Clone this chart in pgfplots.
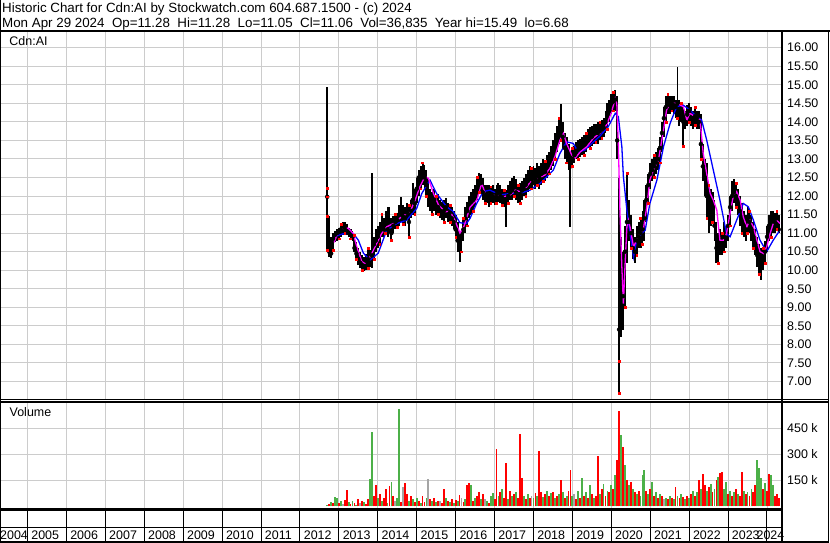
\documentclass[border=0pt]{standalone}
\usepackage{fontspec}
\setmainfont{Liberation Sans}
\usepackage{pgfplots}
\pgfplotsset{compat=1.18}
\usepackage{pgfplotstable}
\definecolor{gridc}{RGB}{204,204,204}
\definecolor{vgreen}{RGB}{76,176,72}
\definecolor{vgray}{RGB}{165,165,165}
\definecolor{magline}{RGB}{255,0,255}
\definecolor{blueline}{RGB}{0,0,255}

\pgfplotstableread{
x lo hi c
2012.70 10.55 14.95 11.98
2012.75 10.35 11.46 10.50
2012.80 10.33 10.90 10.45
2012.85 10.55 11.00 10.85
2012.90 10.75 11.05 10.95
2012.95 10.80 11.10 11.00
2013.00 10.85 11.15 11.05
2013.05 10.90 11.25 11.10
2013.10 10.95 11.30 11.20
2013.15 11.00 11.30 11.15
2013.20 10.95 11.25 11.05
2013.25 10.90 11.15 11.00
2013.30 10.85 11.10 10.95
2013.35 10.80 11.05 10.90
2013.40 10.50 10.95 10.60
2013.45 10.30 10.75 10.45
2013.50 10.15 10.60 10.30
2013.55 10.05 10.50 10.20
2013.60 10.00 10.40 10.10
2013.65 9.98 10.35 10.05
2013.70 10.00 10.45 10.25
2013.75 10.05 10.60 10.30
2013.80 10.10 10.55 10.20
2013.85 10.05 12.61 10.40
2013.90 10.30 10.90 10.70
2013.95 10.50 11.10 10.80
2014.00 10.60 11.20 10.90
2014.05 10.70 11.30 11.10
2014.10 10.90 11.50 11.20
2014.15 10.90 11.40 11.10
2014.20 11.00 11.60 11.30
2014.25 10.90 11.71 11.10
2014.30 11.00 11.70 11.35
2014.35 10.81 11.40 11.00
2014.40 11.00 11.45 11.20
2014.45 11.10 11.50 11.30
2014.50 11.15 11.55 11.35
2014.55 11.20 11.75 11.50
2014.60 11.30 11.98 11.60
2014.65 11.25 11.75 11.45
2014.70 11.20 11.70 11.40
2014.75 11.35 11.80 11.55
2014.80 10.90 11.75 11.30
2014.85 11.40 11.90 11.60
2014.90 11.50 12.34 11.90
2014.95 11.50 12.20 11.80
2015.00 11.80 12.50 12.20
2015.05 12.00 12.70 12.50
2015.10 12.20 12.80 12.60
2015.15 12.30 12.90 12.65
2015.20 12.20 12.85 12.50
2015.25 12.00 12.70 12.30
2015.30 11.70 12.50 12.00
2015.35 11.60 12.20 11.90
2015.40 11.50 12.10 11.80
2015.45 11.60 12.20 11.90
2015.50 11.50 12.00 11.70
2015.55 11.50 12.05 11.70
2015.60 11.40 11.90 11.60
2015.65 11.35 11.85 11.55
2015.70 11.30 11.90 11.60
2015.75 11.40 11.95 11.70
2015.80 11.30 11.80 11.50
2015.85 11.30 11.75 11.55
2015.90 11.20 11.70 11.40
2015.95 11.10 11.60 11.30
2016.00 10.90 11.50 11.10
2016.05 10.50 11.30 10.80
2016.10 10.23 11.00 10.60
2016.15 10.50 11.10 10.90
2016.20 10.80 11.40 11.10
2016.25 11.00 11.70 11.40
2016.30 11.20 11.85 11.60
2016.35 11.40 12.00 11.80
2016.40 11.50 12.10 11.85
2016.45 11.60 12.20 11.90
2016.50 11.70 12.30 12.00
2016.55 11.90 12.50 12.20
2016.60 12.10 12.61 12.40
2016.65 12.10 12.60 12.35
2016.70 11.90 12.50 12.10
2016.75 11.80 12.30 12.00
2016.80 11.80 12.30 12.05
2016.85 11.70 12.30 12.00
2016.90 11.80 12.25 12.05
2016.95 11.80 12.30 12.00
2017.00 11.75 12.20 11.95
2017.05 11.80 12.30 12.05
2017.10 11.85 12.35 12.10
2017.15 11.80 12.30 12.00
2017.20 11.75 12.20 11.95
2017.25 11.70 12.15 11.90
2017.30 11.17 12.15 11.90
2017.35 11.80 12.30 12.00
2017.40 11.90 12.40 12.10
2017.45 11.90 12.50 12.15
2017.50 12.00 12.55 12.25
2017.55 11.90 12.45 12.10
2017.60 11.80 12.30 12.00
2017.65 11.80 12.35 12.05
2017.70 11.90 12.40 12.15
2017.75 12.00 12.50 12.20
2017.80 12.00 12.60 12.30
2017.85 12.10 12.70 12.40
2017.90 12.20 12.80 12.50
2017.95 12.20 12.75 12.45
2018.00 12.30 12.80 12.50
2018.05 12.20 12.75 12.45
2018.10 12.30 12.90 12.60
2018.15 12.20 12.80 12.50
2018.20 12.30 12.90 12.60
2018.25 12.40 13.00 12.70
2018.30 12.40 12.95 12.65
2018.35 12.50 13.10 12.80
2018.40 12.60 13.20 12.90
2018.45 12.70 13.35 13.00
2018.50 12.80 13.50 13.20
2018.55 13.00 13.70 13.40
2018.60 13.20 13.90 13.60
2018.65 13.40 14.10 13.80
2018.70 13.50 14.48 13.90
2018.75 13.30 14.00 13.60
2018.80 13.00 13.70 13.30
2018.85 12.90 13.60 13.20
2018.90 12.70 13.40 13.00
2018.95 11.17 13.20 12.80
2019.00 12.80 13.30 13.00
2019.05 12.90 13.35 13.10
2019.10 13.00 13.45 13.20
2019.15 13.00 13.50 13.25
2019.20 13.05 13.55 13.30
2019.25 13.10 13.60 13.35
2019.30 13.10 13.65 13.40
2019.35 13.20 13.70 13.45
2019.40 13.30 13.80 13.50
2019.45 13.30 13.85 13.60
2019.50 13.35 13.90 13.60
2019.55 13.40 13.95 13.70
2019.60 13.45 13.95 13.70
2019.65 13.40 14.00 13.70
2019.70 13.50 14.00 13.75
2019.75 13.55 14.05 13.80
2019.80 13.60 14.10 13.85
2019.85 13.70 14.30 14.00
2019.90 13.80 14.50 14.20
2019.95 14.00 14.60 14.30
2020.00 14.20 14.75 14.50
2020.05 14.30 14.80 14.55
2020.10 14.30 14.86 14.60
2020.15 13.00 14.70 13.50
2020.20 6.68 12.50 8.40
2020.25 8.20 10.90 9.00
2020.30 8.40 10.50 9.30
2020.35 9.00 11.20 10.50
2020.40 10.20 12.61 11.30
2020.45 10.80 11.90 11.30
2020.50 10.60 11.50 11.00
2020.55 10.30 11.10 10.60
2020.60 10.20 10.90 10.50
2020.65 10.40 11.20 10.80
2020.70 10.60 11.30 10.90
2020.75 10.60 11.40 11.00
2020.80 10.70 11.60 11.10
2020.85 10.80 11.90 11.40
2020.90 11.30 12.30 11.90
2020.95 11.80 12.60 12.30
2021.00 12.20 12.90 12.60
2021.05 12.40 13.00 12.70
2021.10 12.50 13.10 12.80
2021.15 12.60 13.20 12.90
2021.20 12.70 13.30 13.00
2021.25 12.90 13.60 13.30
2021.30 13.20 14.00 13.70
2021.35 13.60 14.40 14.10
2021.40 14.00 14.70 14.40
2021.45 14.20 14.75 14.50
2021.50 14.20 14.70 14.45
2021.55 14.30 14.70 14.50
2021.60 14.20 14.70 14.45
2021.65 14.10 14.60 14.40
2021.70 14.10 15.49 14.50
2021.75 13.90 14.60 14.30
2021.80 14.00 14.50 14.30
2021.85 13.35 14.40 14.00
2021.90 13.80 14.30 14.00
2021.95 13.90 14.45 14.20
2022.00 14.00 14.50 14.30
2022.05 13.90 14.40 14.10
2022.10 13.80 14.30 14.00
2022.15 13.90 14.40 14.15
2022.20 13.80 14.30 14.10
2022.25 13.80 14.30 14.00
2022.30 13.00 14.20 13.40
2022.35 12.40 13.40 12.80
2022.40 12.00 13.00 12.50
2022.45 11.40 12.90 12.00
2022.50 11.00 12.30 11.50
2022.55 11.20 12.20 11.80
2022.60 11.30 12.10 11.70
2022.65 10.80 11.90 11.20
2022.70 10.20 11.30 10.60
2022.75 10.20 11.00 10.50
2022.80 10.40 11.10 10.70
2022.85 10.40 11.00 10.70
2022.90 10.50 11.30 10.90
2022.95 10.60 11.20 10.85
2023.00 10.80 11.50 11.20
2023.05 11.20 12.00 11.70
2023.10 11.60 12.40 12.00
2023.15 11.80 12.45 12.10
2023.20 11.70 12.35 12.00
2023.25 11.50 12.20 11.80
2023.30 11.20 12.00 11.60
2023.35 11.00 11.80 11.30
2023.40 10.90 11.60 11.20
2023.45 10.80 11.50 11.10
2023.50 11.00 11.70 11.40
2023.55 11.00 11.60 11.30
2023.60 10.80 11.50 11.10
2023.65 10.60 11.30 10.90
2023.70 10.40 11.10 10.70
2023.75 10.10 10.90 10.40
2023.80 9.90 10.70 10.30
2023.85 9.74 10.60 10.20
2023.90 10.00 10.60 10.30
2023.95 10.20 10.80 10.50
2024.00 10.50 11.20 10.90
2024.05 10.80 11.50 11.20
2024.10 10.90 11.60 11.30
2024.15 11.00 11.60 11.35
2024.20 11.00 11.55 11.30
2024.25 11.10 11.60 11.40
2024.30 11.00 11.50 11.10
}\price

\begin{document}
\begin{tikzpicture}[x=1bp,y=1bp]
\useasboundingbox (0bp,0bp) rectangle (830bp,543bp);

% ---------------- price panel ----------------
\begin{axis}[
  at={(0bp,143bp)}, anchor=south west,
  scale only axis, width=782bp, height=368.5bp,
  xmin=2004.293, xmax=2024.385, ymin=6.501, ymax=16.437,
  axis line style={draw=none},
  major tick length=0pt,
  xtick={2005,2006,...,2024}, xticklabels={},
  ytick={7,7.5,8,8.5,9,9.5,10,10.5,11,11.5,12,12.5,13,13.5,14,14.5,15,15.5,16},
  yticklabel pos=right,
  yticklabel={\pgfmathprintnumber[fixed,fixed zerofill,precision=2,assume math mode=true]{\tick}},
  yticklabel style={anchor=west, inner sep=0pt, xshift=5bp, font=\fontsize{12.5}{14}\selectfont},
  grid=major, major grid style={draw=gridc, line width=1bp},
]
\addplot[only marks, mark=none,
  error bars/.cd, y dir=both, y explicit, error mark=none,
  error bar style={draw=black, line width=1.95bp}]
  table[x=x, y=c, y error plus expr=\thisrow{hi}-\thisrow{c}, y error minus expr=\thisrow{c}-\thisrow{lo}] {\price};
\addplot[blueline, line width=1.3bp] coordinates {
(2012.88,10.90) (2013.10,10.98) (2013.37,10.99) (2013.50,10.81) (2013.63,10.46) (2013.80,10.27) (2014.01,10.46) (2014.23,11.08) (2014.49,11.26) (2014.74,11.35) (2015.00,11.67) (2015.13,12.07) (2015.34,12.43) (2015.51,12.07) (2015.77,11.71) (2015.94,11.58) (2016.11,11.28) (2016.28,11.26) (2016.37,11.40) (2016.54,11.80) (2016.71,12.12) (2016.88,12.16) (2017.14,12.03) (2017.40,12.07) (2017.65,12.07) (2017.91,12.16) (2018.17,12.34) (2018.30,12.48) (2018.51,12.70) (2018.68,13.15) (2018.85,13.46) (2019.02,13.42) (2019.15,13.19) (2019.32,13.24) (2019.54,13.46) (2019.71,13.62) (2019.92,13.87) (2020.10,14.23) (2020.18,14.14) (2020.27,13.33) (2020.31,12.52) (2020.40,11.62) (2020.48,10.99) (2020.57,10.36) (2020.65,10.81) (2020.78,10.99) (2020.87,11.08) (2020.99,11.80) (2021.17,12.43) (2021.34,13.33) (2021.51,13.96) (2021.68,14.41) (2021.85,14.45) (2022.02,14.32) (2022.19,14.14) (2022.32,14.05) (2022.45,13.51) (2022.62,12.70) (2022.79,11.89) (2022.96,10.99) (2023.05,10.90) (2023.22,11.35) (2023.39,11.80) (2023.52,11.71) (2023.65,11.35) (2023.82,10.81) (2023.99,10.50) (2024.16,10.81) (2024.33,11.08)
};
\addplot[magline, line width=1.3bp] coordinates {
(2012.88,10.75) (2012.95,10.95) (2013.03,11.08) (2013.15,11.15) (2013.24,11.13) (2013.37,10.99) (2013.46,10.63) (2013.59,10.23) (2013.67,10.19) (2013.80,10.36) (2013.93,10.63) (2014.10,10.99) (2014.23,11.17) (2014.40,11.26) (2014.61,11.44) (2014.83,11.58) (2014.96,11.89) (2015.08,12.25) (2015.21,12.52) (2015.30,12.48) (2015.43,12.07) (2015.56,11.76) (2015.73,11.58) (2015.86,11.58) (2015.98,11.35) (2016.11,11.00) (2016.22,11.20) (2016.37,11.70) (2016.54,11.89) (2016.67,12.34) (2016.76,12.07) (2016.88,12.03) (2017.06,12.03) (2017.23,11.98) (2017.40,12.03) (2017.53,12.16) (2017.65,12.12) (2017.83,12.25) (2017.95,12.43) (2018.12,12.48) (2018.30,12.57) (2018.42,12.75) (2018.55,13.06) (2018.68,13.51) (2018.77,13.69) (2018.85,13.42) (2018.98,13.11) (2019.07,13.02) (2019.20,13.19) (2019.37,13.33) (2019.54,13.56) (2019.71,13.70) (2019.88,13.92) (2020.01,14.28) (2020.10,14.63) (2020.14,14.50) (2020.18,13.42) (2020.22,11.62) (2020.27,10.09) (2020.31,9.10) (2020.35,10.09) (2020.40,11.17) (2020.44,11.35) (2020.48,11.17) (2020.57,10.63) (2020.65,10.81) (2020.74,10.99) (2020.82,11.08) (2020.91,11.71) (2020.99,12.43) (2021.08,12.70) (2021.21,12.97) (2021.34,13.78) (2021.42,14.32) (2021.51,14.50) (2021.68,14.50) (2021.85,14.41) (2021.94,14.05) (2022.02,14.23) (2022.15,14.14) (2022.28,14.05) (2022.36,13.15) (2022.45,12.61) (2022.54,12.07) (2022.62,11.89) (2022.71,11.62) (2022.79,10.81) (2022.88,10.81) (2022.96,10.99) (2023.05,11.53) (2023.13,11.98) (2023.22,12.12) (2023.31,11.89) (2023.39,11.44) (2023.48,11.17) (2023.56,11.35) (2023.65,11.17) (2023.74,10.81) (2023.82,10.50) (2023.91,10.45) (2023.99,10.63) (2024.08,10.99) (2024.16,11.26) (2024.25,11.35) (2024.33,11.26)
};
\addplot[only marks, mark=square*, mark size=0.9bp, red, each nth point=3] table[x=x, y=lo] {\price};
\addplot[only marks, mark=square*, mark size=0.9bp, red, each nth point=7, skip coords between index={0}{1}] table[x=x, y=hi] {\price};
\addplot[only marks, mark=square*, mark size=0.9bp, red] coordinates {(2012.70,12.22) (2012.70,11.98) (2012.70,11.46) (2020.20,7.55)};
\end{axis}

% ---------------- volume panel ----------------
\begin{axis}[
  at={(0bp,34bp)}, anchor=south west,
  scale only axis, width=782bp, height=107bp,
  xmin=2004.293, xmax=2024.385, ymin=-15.6, ymax=601.7,
  axis line style={draw=none},
  major tick length=0pt,
  xtick={2005,2006,...,2024}, xticklabels={},
  ytick={150,300,450}, yticklabels={150 k,300 k,450 k},
  yticklabel pos=right,
  yticklabel style={anchor=west, inner sep=0pt, xshift=5bp, font=\fontsize{12.5}{14}\selectfont},
  grid=major, major grid style={draw=gridc, line width=1bp},
]
\addplot[ycomb, red, line width=1.85bp] coordinates {
(2012.75,12) (2012.85,18) (2013.00,20) (2013.15,35) (2013.20,94) (2013.30,15) (2013.40,20) (2013.50,40) (2013.60,30) (2013.70,15) (2013.75,40) (2013.90,60) (2013.95,120) (2014.05,70) (2014.15,50) (2014.20,100) (2014.30,119) (2014.40,60) (2014.60,25) (2014.70,133) (2014.75,70) (2014.85,60) (2014.95,25) (2015.05,30) (2015.15,60) (2015.20,25) (2015.35,40) (2015.45,45) (2015.55,30) (2015.65,20) (2015.70,98) (2015.80,30) (2015.90,40) (2016.00,35) (2016.10,65) (2016.20,25) (2016.30,125) (2016.35,133) (2016.45,30) (2016.55,60) (2016.60,80) (2016.70,70) (2016.85,20) (2017.00,40) (2017.05,330) (2017.15,80) (2017.25,50) (2017.30,252) (2017.40,90) (2017.50,70) (2017.60,50) (2017.65,417) (2017.70,161) (2017.80,40) (2017.90,50) (2018.05,75) (2018.15,319) (2018.20,80) (2018.30,70) (2018.40,60) (2018.50,80) (2018.60,60) (2018.70,152) (2018.80,50) (2018.90,90) (2018.95,209) (2019.10,40) (2019.20,50) (2019.30,60) (2019.40,45) (2019.50,70) (2019.60,60) (2019.65,290) (2019.75,100) (2019.85,60) (2019.95,80) (2020.05,100) (2020.15,267) (2020.20,550) (2020.30,340) (2020.40,152) (2020.50,143) (2020.60,80) (2020.70,90) (2020.90,90) (2021.00,100) (2021.10,60) (2021.20,50) (2021.30,60) (2021.45,40) (2021.55,50) (2021.65,113) (2021.75,45) (2021.85,55) (2021.95,60) (2022.05,70) (2022.15,60) (2022.25,152) (2022.35,188) (2022.40,120) (2022.50,110) (2022.60,80) (2022.70,150) (2022.80,194) (2022.85,199) (2023.00,70) (2023.10,60) (2023.20,100) (2023.30,60) (2023.35,199) (2023.45,70) (2023.55,60) (2023.65,80) (2023.70,120) (2023.90,100) (2024.00,90) (2024.05,188) (2024.20,60) (2024.25,70) (2024.30,46)
};
\addplot[ycomb, vgreen, line width=1.85bp] coordinates {
(2012.70,5) (2012.80,25) (2012.90,52) (2012.95,45) (2013.05,30) (2013.25,25) (2013.35,30) (2013.45,10) (2013.65,25) (2013.80,157) (2013.85,430) (2014.00,45) (2014.10,30) (2014.25,20) (2014.35,140) (2014.50,45) (2014.55,560) (2014.80,30) (2014.90,40) (2015.00,50) (2015.10,20) (2015.25,45) (2015.40,30) (2015.50,25) (2015.75,50) (2015.85,25) (2015.95,20) (2016.05,30) (2016.25,40) (2016.40,120) (2016.50,45) (2016.65,40) (2016.80,30) (2016.90,60) (2016.95,75) (2017.10,60) (2017.20,100) (2017.35,40) (2017.45,60) (2017.55,85) (2017.75,60) (2017.85,70) (2018.00,45) (2018.10,60) (2018.25,55) (2018.35,90) (2018.45,75) (2018.55,45) (2018.65,70) (2018.75,80) (2018.85,60) (2019.00,60) (2019.15,90) (2019.25,161) (2019.35,80) (2019.45,120) (2019.55,50) (2019.70,70) (2019.80,130) (2019.90,90) (2020.00,120) (2020.10,180) (2020.25,411) (2020.35,238) (2020.45,120) (2020.55,100) (2020.65,70) (2020.75,60) (2020.80,180) (2020.85,209) (2020.95,70) (2021.05,143) (2021.15,80) (2021.25,70) (2021.40,50) (2021.50,60) (2021.60,40) (2021.70,60) (2021.80,70) (2021.90,40) (2022.00,50) (2022.10,90) (2022.20,80) (2022.30,100) (2022.45,90) (2022.55,130) (2022.65,100) (2022.75,167) (2022.90,100) (2022.95,143) (2023.05,90) (2023.15,80) (2023.25,70) (2023.40,90) (2023.50,80) (2023.60,100) (2023.75,267) (2023.80,219) (2023.85,161) (2023.95,133) (2024.10,178) (2024.15,121)
};
\addplot[ycomb, vgray, line width=1.85bp] coordinates {
(2013.10,15) (2013.55,20) (2014.45,30) (2014.65,110) (2015.30,160) (2015.60,30) (2016.15,50) (2016.75,40) (2017.95,60) (2019.05,70) (2021.35,40)
};
\end{axis}

% ---------------- texts ----------------
\node[anchor=base west, inner sep=0pt, font=\fontsize{13.4}{15}\selectfont] at (2bp,530.7bp)
  {Historic Chart for Cdn:AI by Stockwatch.com 604.687.1500 - (c) 2024};
\node[anchor=base west, inner sep=0pt, font=\fontsize{13.4}{15}\selectfont] at (2bp,515.7bp)
  {Mon Apr 29 2024\ \ Op=11.28\ \ Hi=11.28\ \ Lo=11.05\ \ Cl=11.06\ \ Vol=36,835\ \ Year hi=15.49\ \ lo=6.68};
\node[anchor=base west, inner sep=0pt, font=\fontsize{12.5}{14}\selectfont] at (9.3bp,497.3bp) {Cdn:AI};
\node[anchor=base west, inner sep=0pt, font=\fontsize{12.5}{14}\selectfont] at (9.5bp,126bp) {Volume};

% year labels
\foreach \i in {0,...,18} {
  \pgfmathtruncatemacro{\yr}{2005+\i}
  \node[anchor=base west, inner sep=0pt, font=\fontsize{12.5}{14}\selectfont] at ({(31.2+\i*38.92)*1bp},3.7bp) {\yr};
}
\node[anchor=base west, inner sep=0pt, font=\fontsize{12.5}{14}\selectfont] at (0bp,3.7bp) {2004};
\node[anchor=base east, inner sep=0pt, font=\fontsize{12.5}{14}\selectfont] at (784.5bp,3.7bp) {2024};

% ---------------- frame ----------------
\foreach \i in {0,...,19} {
  \draw[black, line width=1bp] ({(27.5+\i*38.92)*1bp},1.2bp) -- ({(27.5+\i*38.92)*1bp},33.4bp);
}
\draw[black, line width=2bp] (0bp,512.2bp) -- (830bp,512.2bp);
\draw[black, line width=1.2bp] (0bp,143.1bp) -- (828.3bp,143.1bp);
\draw[black, line width=1.4bp] (0bp,140.8bp) -- (828.3bp,140.8bp);
\draw[black, line width=2.7bp] (0bp,33.4bp) -- (781.8bp,33.4bp);
\draw[black, line width=1.7bp] (0bp,15.5bp) -- (781.8bp,15.5bp);
\draw[black, line width=1.6bp] (0bp,1.2bp) -- (828.3bp,1.2bp);
\draw[black, line width=1.2bp] (0.6bp,0bp) -- (0.6bp,543bp);
\draw[black, line width=1.4bp] (828.3bp,0.4bp) -- (828.3bp,513.2bp);
\draw[black, line width=2.3bp] (781.8bp,0.4bp) -- (781.8bp,513.2bp);
\end{tikzpicture}
\end{document}
